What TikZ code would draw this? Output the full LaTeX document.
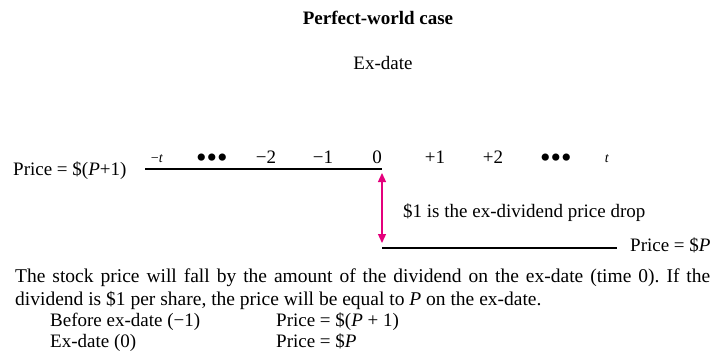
\documentclass[tikz,border=0pt]{standalone}
\usepackage{fontspec}
\setmainfont{Liberation Serif}
\usetikzlibrary{arrows.meta}
\definecolor{dropmag}{RGB}{228,0,124}
\frenchspacing

\begin{document}
\begin{tikzpicture}[x=1pt, y=-1pt, >={Triangle[length=9pt,width=8pt]},
        font=\fontsize{19}{23}\selectfont,
        txt/.style={anchor=base west, inner sep=0pt},
        tlab/.style={anchor=base, inner sep=0pt},
        dots/.style={anchor=base, inner sep=0pt, font=\fontsize{30}{30}\selectfont}]
        \useasboundingbox (0,0) rectangle (713,360);

        % Title
        \node[tlab, font=\bfseries\fontsize{19}{23}\selectfont] (title) at (378,24) {Perfect-world case};
        \node[tlab] (exdate) at (383,69) {Ex-date};

        % Define coordinates
        \coordinate (L0) at (145,169);
        \coordinate (Z) at (382,169);
        \coordinate (D0) at (382,248);
        \coordinate (D1) at (617,248);

        % Price lines
        \draw[line width=1.6pt] (L0) -- (Z);
        \draw[line width=1.6pt] (D0) -- (D1);
        \node[txt] (pbefore) at (13,175) {Price = \$(\textit{P}+1)};
        \node[txt] (pafter) at (630,251) {Price = \$\textit{P}};

        % Time labels
        \node[tlab, font=\fontsize{14}{16}\selectfont] (tm) at (157,162) {−\textit{t}};
        \foreach \x/\lab [count=\i] in {266/−2, 323/−1, 377/0, 435/+1, 493/+2}
            \node[tlab] (tick\i) at (\x,163) {\lab};
        \node[tlab, font=\fontsize{14}{16}\selectfont] (tp) at (607,162) {\textit{t}};
        \node[dots] (dl) at (212,167) {•••};
        \node[dots] (dr) at (556,167) {•••};

        % Dividend drop
        \draw[<->, dropmag, line width=1.3pt, shorten <=4pt, shorten >=5pt] (Z) -- (D0);
        \node[txt] (drop) at (403,217) {\$1 is the ex-dividend price drop};

        % Explanation
        \node[txt, text width=695pt, align=justify, font=\fontsize{19.5}{23}\selectfont] (para) at (15,282)
            {The stock price will fall by the amount of the dividend on the ex-date (time 0). If the\linebreak
             dividend is \$1 per share, the price will be equal to \textit{P} on the ex-date.};
        \node[txt] (before) at (50,326) {Before ex-date (−1)};
        \node[txt] (pb) at (276,326) {Price = \$(\textit{P} + 1)};
        \node[txt] (ex) at (50,347) {Ex-date (0)};
        \node[txt] (pe) at (276,347) {Price = \$\textit{P}};
    \end{tikzpicture}
\end{document}
